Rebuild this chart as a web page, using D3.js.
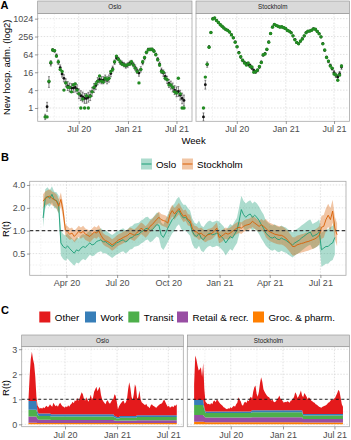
<!DOCTYPE html>
<html lang="en">
<head>
    <meta charset="UTF-8">
    <meta name="viewport" content="width=device-width, initial-scale=1.0">
    <title>Hospital admissions and R(t), Oslo and Stockholm</title>
    <script src="https://d3js.org/d3.v7.min.js"></script>
    <style>
        body { margin: 0; background: #fff; }
        svg { display: block; font-family: "Liberation Sans", Arial, sans-serif; }
        .tick text { font-family: "Liberation Sans", Arial, sans-serif; font-size: 9px; fill: #4d4d4d; }
        .tick line { stroke: #333; stroke-width: 0.5px; }
        .axis-title { font-size: 9.5px; fill: #000; }
        .strip rect { fill: #d9d9d9; stroke: #8c8c8c; stroke-width: 0.6px; }
        .strip text { font-size: 6.3px; fill: #1a1a1a; text-anchor: middle; }
        .tag { font-size: 11px; font-weight: bold; }
        .legend text { font-size: 9.8px; fill: #000; }
        .grid-major { stroke: #d4d4d4; stroke-width: 0.7px; stroke-dasharray: 1.5 1.5; }
        .grid-minor { stroke: #e8e8e8; stroke-width: 0.6px; stroke-dasharray: 1.5 1.5; }
        .border { fill: none; stroke: #a8a8a8; stroke-width: 0.8px; }
    </style>
</head>
<body>
<svg width="351" height="440"></svg>
<script>
// ---------------- data ----------------
const cities = ["Oslo", "Stockholm"];

// A: weekly new hospital admissions (observed = green, model = black with interval)
const weekStart = new Date(2020, 1, 27);
const osloObs = [0.5, 0.5, 8, 34, 90, 86, 56, 36, 20, 17, 4, 7, 5, 5, 3.5, 6, 6.5, 4, 3, 1,
    2, 1, 2.6, 1, 2.5, 3.5, 5, 6.5, 8, 12, 8, 7.5, 10, 9, 10, 17, 20, 36, 56, 44,
    36, 30, 28, 27, 29, 30, 36, 28, 22, 17, 7, 20, 36, 50, 76, 92, 94, 96, 82, 62,
    42, 28, 17, 16, 10, 9, 6, 6, 5, 3.5, 3.2, 10, 3, 1, 1];
const osloFit = [0.5, 1.1, 7.5, 32, 90, 84, 58, 35, 23, 14, 10, 7, 5.5, 4.9, 4.7, 4.7, 4.9, 4.3, 3.0, 2.6,
    2.35, 2.1, 2.1, 2.3, 2.6, 3.5, 4.7, 5.7, 8, 9.2, 8.6, 8.6, 9.8, 8.6, 9.8, 14.4, 21, 35, 48, 45,
    35, 32, 29, 26, 28, 32, 34, 29, 23, 18, 15, 20, 34, 48, 74, 94, 95, 94, 84, 64,
    44, 30, 18, 15, 11.7, 8.9, 6.7, 5.9, 4.9, 4, 3.5, 3.6, 2.7, 2.1, 1.8];
const osloErr = [0.3, 0.5, 0.6, 0.3, 0.15, 0.15, 0.2, 0.25, 0.3, 0.35, 0.4, 0.45, 0.5, 0.5, 0.5, 0.5, 0.5, 0.5, 0.55, 0.55,
    0.55, 0.55, 0.55, 0.55, 0.55, 0.5, 0.5, 0.45, 0.4, 0.4, 0.4, 0.4, 0.4, 0.4, 0.4, 0.35, 0.3, 0.25, 0.2, 0.2,
    0.25, 0.25, 0.25, 0.25, 0.25, 0.25, 0.25, 0.25, 0.3, 0.3, 0.35, 0.3, 0.25, 0.2, 0.15, 0.15, 0.15, 0.15, 0.15, 0.15,
    0.2, 0.25, 0.3, 0.35, 0.4, 0.4, 0.45, 0.45, 0.5, 0.5, 0.55, 0.55, 0.55, 0.6, 0.6];
const sthlmObs = [1, 11, 30, 112, 350, 1000, 1075, 880, 760, 640, 570, 490, 440, 410, 365, 290, 232, 165, 116, 72,
    53, 41, 33, 28, 33, 25, 24, 16, 17, 19, 25, 34, 62, 66, 95, 165, 325, 530, 650, 600,
    570, 530, 545, 505, 475, 410, 390, 340, 270, 200, 162, 145, 180, 212, 270, 340, 390, 390, 420, 465,
    450, 380, 315, 250, 145, 90, 50, 38, 26, 22, 14, 13, 8.6, 13, 26];
const sthlmFit = [0.5, 6.1, 29, 114, 345, 1024, 1075, 891, 750, 644, 564, 498, 437, 416, 362, 294, 229, 169, 114, 74,
    52, 40, 34, 31, 29, 27.5, 22, 18.4, 16.3, 18.4, 24, 35, 60, 68, 92, 169, 320, 537, 644, 609,
    564, 537, 537, 512, 471, 416, 383, 345, 267, 206, 159, 147, 176, 217, 267, 345, 383, 393, 416, 471,
    446, 383, 320, 247, 147, 88, 52, 37, 27.5, 21, 15.6, 12.6, 11.1, 14.3, 24];
const sthlmErr = [0.45, 0.5, 0.3, 0.15, 0.06, 0.06, 0.06, 0.06, 0.06, 0.06, 0.06, 0.06, 0.06, 0.06, 0.06, 0.06, 0.06, 0.06, 0.06, 0.06,
    0.15, 0.15, 0.15, 0.15, 0.15, 0.15, 0.15, 0.15, 0.15, 0.15, 0.15, 0.15, 0.1, 0.1, 0.1, 0.1, 0.05, 0.05, 0.05, 0.05,
    0.05, 0.05, 0.05, 0.05, 0.05, 0.05, 0.05, 0.05, 0.05, 0.05, 0.05, 0.05, 0.05, 0.05, 0.05, 0.05, 0.05, 0.05, 0.05, 0.05,
    0.05, 0.05, 0.05, 0.05, 0.1, 0.1, 0.1, 0.15, 0.15, 0.15, 0.25, 0.25, 0.25, 0.25, 0.25];
const admTicks = [1, 4, 16, 64, 256, 1024];
const admMinor = [0.5, 2, 8, 32, 128, 512];

// B: R(t) every 4th day, with interval half width in log2 units
const rStart = new Date(2020, 1, 19);
const osloR = [1.47, 2.66, 2.86, 2.66, 3.01, 2.55, 2.50, 2.21, 0.69, 0.62,
    0.59, 0.63, 0.58, 0.54, 0.505, 0.56, 0.54, 0.59, 0.62, 0.60,
    0.65, 0.69, 0.65, 0.665, 0.72, 0.74, 0.76, 0.71, 0.72, 0.68,
    0.65, 0.62, 0.65, 0.69, 0.71, 0.74, 0.76, 0.71, 0.74, 0.80,
    0.815, 0.87, 0.885, 0.90, 0.96, 1.00, 1.06, 1.08, 1.00, 1.03,
    1.11, 1.20, 1.18, 0.885, 0.815, 0.93, 1.08, 1.23, 1.40, 1.50,
    1.72, 1.84, 1.60, 1.47, 1.50, 1.36, 1.26, 0.98, 0.87, 0.84,
    0.93, 0.80, 0.76, 0.84, 0.90, 0.93, 0.885, 0.90, 0.93, 0.90,
    0.84, 0.78, 0.69, 0.76, 0.84, 0.80, 0.90, 1.00, 1.33, 1.90,
    1.63, 1.50, 1.60, 1.66, 1.50, 1.60, 1.50, 1.36, 1.20, 1.08,
    0.93, 0.87, 0.815, 0.80, 0.83, 0.78, 0.76, 0.80, 0.77, 0.75,
    0.71, 0.68, 0.65, 0.69, 0.72, 0.75, 0.80, 0.84, 0.885, 0.93,
    0.96, 0.84, 0.87, 0.90, 0.96, 0.56, 0.59, 0.62, 0.62, 0.665,
    0.69, 0.815];
const osloRW = [.40, .40, .38, .36, .35, .35, .36, .40, .55, .55,
    .55, .55, .55, .55, .55, .55, .55, .55, .55, .55,
    .55, .52, .50, .50, .50, .50, .50, .50, .50, .50,
    .50, .50, .50, .50, .50, .50, .50, .50, .50, .50,
    .50, .50, .50, .50, .50, .50, .50, .50, .50, .50,
    .50, .52, .55, .55, .55, .58, .60, .60, .60, .60,
    .60, .60, .60, .58, .55, .55, .55, .55, .55, .55,
    .55, .55, .55, .55, .55, .55, .55, .55, .55, .55,
    .55, .55, .55, .55, .55, .55, .55, .55, .60, .60,
    .60, .60, .60, .60, .60, .60, .60, .60, .60, .60,
    .55, .55, .55, .55, .55, .55, .55, .55, .55, .55,
    .55, .55, .55, .55, .55, .55, .55, .55, .55, .55,
    .55, .55, .55, .55, .55, .75, .75, .75, .75, .75,
    .75, .75];
const sthlmR = [2.45, 2.66, 2.77, 2.86, 2.66, 2.58, 2.45, 2.10, 2.58, 1.81,
    1.03, 0.96, 0.90, 0.93, 0.84, 0.90, 0.98, 0.93, 0.98, 0.90,
    0.87, 0.84, 0.90, 0.96, 0.93, 1.00, 0.87, 0.78, 0.74, 0.72,
    0.69, 0.65, 0.68, 0.72, 0.76, 0.78, 0.815, 0.84, 0.87, 0.93,
    0.90, 0.87, 0.93, 1.00, 1.08, 1.03, 0.96, 1.03, 1.14, 1.20,
    1.30, 1.40, 1.50, 1.40, 1.36, 1.33, 1.26, 1.63, 1.84, 1.66,
    1.81, 1.96, 1.72, 1.55, 1.60, 1.40, 1.36, 1.08, 0.98, 0.96,
    0.90, 0.93, 0.87, 0.84, 0.885, 0.90, 0.93, 1.00, 1.08, 0.815,
    0.84, 0.885, 0.93, 0.90, 0.93, 0.98, 1.03, 1.08, 1.11, 1.08,
    1.14, 1.18, 1.20, 1.23, 1.33, 1.26, 1.20, 1.14, 1.20, 1.14,
    1.08, 1.00, 0.96, 0.93, 0.90, 0.885, 0.87, 0.87, 0.84, 0.80,
    0.74, 0.68, 0.62, 0.62, 0.65, 0.665, 0.68, 0.69, 0.71, 0.72,
    0.74, 0.76, 0.78, 0.815, 0.87, 1.11, 1.14, 1.40, 1.60, 1.40,
    1.81, 1.08, 0.885];
const sthlmRW = [.30, .30, .30, .30, .30, .30, .30, .30, .30, .30,
    .25, .25, .25, .25, .25, .25, .25, .25, .25, .25,
    .25, .25, .25, .25, .25, .25, .25, .25, .25, .25,
    .25, .25, .25, .25, .25, .25, .25, .25, .25, .25,
    .25, .25, .25, .25, .25, .25, .25, .25, .25, .25,
    .25, .25, .25, .25, .25, .25, .25, .25, .25, .25,
    .25, .25, .25, .25, .25, .25, .25, .25, .25, .25,
    .25, .25, .25, .25, .25, .25, .25, .25, .25, .25,
    .25, .25, .25, .25, .25, .25, .25, .25, .25, .25,
    .25, .25, .25, .25, .25, .25, .25, .25, .25, .25,
    .40, .40, .40, .40, .40, .40, .40, .40, .40, .40,
    .40, .40, .40, .40, .40, .40, .40, .40, .40, .40,
    .40, .40, .40, .40, .40, .50, .50, .50, .50, .50,
    .50, .50, .50];
const rTicks = [0.5, 1, 2, 4];
const rTickLabels = ["0.5", "1.0", "2.0", "4.0"];

// C: contribution to R(t) by category, every 4th day
const cStart = new Date(2020, 1, 23);
const categories = ["Other", "Work", "Transit", "Retail & recr.", "Groc. & pharm."];
const catColors = ["#E41A1C", "#377EB8", "#4DAF4A", "#984EA3", "#FF7F00"];

const osloOther = [.07, .97, 1.67, 1.97, 1.67, 1.47, .97, .17, .23, .25,
    .19, .23, .19, .25, .21, .27, .31, .25, .29, .37,
    .34, .30, .46, .38, .32, .36, .30, .40, .46, .38,
    .32, .30, .26, .32, .28, .36, .30, .38, .42, .50,
    .44, .56, .52, .66, .54, .62, .76, .88, .80, .62,
    .54, .68, .58, .50, .62, .78, .60, .66, .90, 1.00,
    1.10, .92, 1.02, 1.10, .78, .60, .52, .46, .40, .52,
    .56, .46, .42, .50, .58, .62, .87, .81, .61, .31,
    .43, .47, .53, .59, .61, .49, .55, .67, 1.07, 1.35,
    1.12, .77, .63, .87, 1.27, 1.15, .66, .72, .99, .64,
    .52, .48, .44, .40, .46, .36, .34, .28, .40, .44,
    .38, .36, .32, .30, .36, .40, .44, .46, .48, .58,
    .62, .52, .42, .34, .38, .30, .34, .36, .32, .40,
    .38, .44];
const osloWork = [.35, .35, .35, .35, .35, .35, .35, .35, .14, .10,
    .10, .10, .10, .10, .10, .10, .10, .10, .10, .10,
    .09, .09, .09, .09, .09, .09, .09, .09, .09, .09,
    .09, .09, .09, .09, .09, .09, .09, .09, .09, .09,
    .09, .09, .09, .09, .09, .09, .09, .09, .09, .09,
    .09, .09, .09, .09, .09, .09, .09, .09, .09, .09,
    .09, .09, .09, .09, .09, .09, .09, .09, .09, .09,
    .09, .09, .09, .09, .09, .09, .07, .07, .06, .06,
    .06, .07, .07, .07, .07, .07, .07, .07, .07, .07,
    .07, .07, .07, .07, .07, .07, .07, .07, .07, .07,
    .07, .07, .07, .07, .07, .07, .07, .07, .07, .07,
    .07, .07, .07, .07, .07, .07, .07, .07, .07, .07,
    .07, .07, .07, .07, .07, .07, .07, .07, .07, .07,
    .07, .07];
const osloTransit = [.27, .27, .27, .27, .27, .27, .27, .27, .17, .15,
    .15, .15, .15, .15, .15, .15, .15, .15, .15, .15,
    .14, .14, .14, .14, .14, .14, .14, .14, .14, .14,
    .14, .14, .14, .14, .14, .14, .14, .14, .14, .14,
    .14, .14, .14, .14, .14, .14, .14, .14, .14, .14,
    .14, .14, .14, .14, .14, .14, .14, .14, .14, .14,
    .14, .14, .14, .14, .14, .14, .14, .14, .14, .14,
    .14, .14, .14, .14, .14, .14, .11, .11, .09, .09,
    .09, .11, .11, .11, .11, .11, .11, .11, .11, .11,
    .11, .11, .11, .11, .11, .11, .13, .13, .13, .13,
    .13, .13, .13, .13, .13, .13, .13, .13, .13, .13,
    .13, .13, .13, .13, .13, .13, .13, .13, .13, .13,
    .13, .13, .13, .13, .13, .13, .13, .13, .13, .13,
    .13, .13];
const osloRetail = [.25, .25, .25, .25, .25, .25, .25, .25, .16, .13,
    .13, .13, .13, .13, .13, .13, .13, .13, .13, .13,
    .12, .12, .12, .12, .12, .12, .12, .12, .12, .12,
    .12, .12, .12, .12, .12, .12, .12, .12, .12, .12,
    .12, .12, .12, .12, .12, .12, .12, .12, .12, .12,
    .12, .12, .12, .12, .12, .12, .12, .12, .12, .12,
    .12, .12, .12, .12, .12, .12, .12, .12, .12, .12,
    .12, .12, .12, .12, .12, .12, .10, .10, .09, .09,
    .09, .10, .10, .10, .10, .10, .10, .10, .10, .10,
    .10, .10, .10, .10, .10, .10, .11, .11, .11, .11,
    .11, .11, .11, .11, .11, .11, .11, .11, .11, .11,
    .11, .11, .11, .11, .11, .11, .11, .11, .11, .11,
    .11, .11, .11, .11, .11, .11, .11, .11, .11, .11,
    .11, .11];
const osloGroc = [.06, .06, .06, .06, .06, .06, .06, .06, .05, .05,
    .05, .05, .05, .05, .05, .05, .05, .05, .05, .05,
    .05, .05, .05, .05, .05, .05, .05, .05, .05, .05,
    .05, .05, .05, .05, .05, .05, .05, .05, .05, .05,
    .05, .05, .05, .05, .05, .05, .05, .05, .05, .05,
    .05, .05, .05, .05, .05, .05, .05, .05, .05, .05,
    .05, .05, .05, .05, .05, .05, .05, .05, .05, .05,
    .05, .05, .05, .05, .05, .05, .05, .05, .05, .05,
    .05, .05, .05, .05, .05, .05, .05, .05, .05, .05,
    .05, .05, .05, .05, .05, .05, .05, .05, .05, .05,
    .05, .05, .05, .05, .05, .05, .05, .05, .05, .05,
    .05, .05, .05, .05, .05, .05, .05, .05, .05, .05,
    .05, .05, .05, .05, .05, .05, .05, .05, .05, .05,
    .05, .05];

const sthlmOther = [.63, 1.78, 1.63, 1.38, 1.18, 1.23, 1.31, .93, 1.48, .73,
    .39, .34, .29, .31, .27, .34, .29, .41, .44, .37,
    .49, .44, .37, .31, .27, .23, .17, .15, .11, .09,
    .13, .11, .17, .13, .19, .23, .19, .29, .35, .57,
    .47, .41, .27, .23, .35, .39, .34, .45, .41, .54,
    .59, .46, .74, .92, .99, .66, .54, .74, 1.09, 1.32,
    1.14, .84, .74, .66, .59, .54, .52, .44, .39, .42,
    .34, .32, .36, .44, .49, .59, .46, .44, .36, .30,
    .34, .32, .36, .34, .30, .38, .40, .46, .54, .72,
    .64, .49, .56, .66, .79, .59, .67, .84, .77, .69,
    .59, .67, .61, .54, .51, .47, .45, .39, .37, .33,
    .29, .27, .25, .29, .31, .33, .35, .39, .45, .47,
    .53, .59, .55, .61, .64, .74, .84, .97, .89, .64,
    .39, .29];
const sthlmWork = [.20, .20, .20, .20, .20, .20, .20, .20, .20, .08,
    .06, .06, .06, .06, .06, .06, .06, .06, .06, .06,
    .06, .06, .06, .06, .06, .06, .06, .06, .06, .06,
    .06, .06, .06, .06, .06, .06, .06, .06, .06, .06,
    .06, .06, .06, .06, .06, .06, .06, .06, .06, .06,
    .06, .08, .08, .08, .08, .08, .08, .08, .08, .08,
    .08, .08, .08, .08, .08, .08, .08, .08, .08, .08,
    .08, .08, .08, .08, .08, .08, .08, .08, .08, .08,
    .08, .08, .08, .08, .08, .08, .08, .08, .08, .08,
    .08, .08, .08, .08, .08, .08, .06, .06, .06, .06,
    .06, .06, .06, .06, .06, .06, .06, .06, .06, .06,
    .06, .06, .06, .06, .06, .06, .06, .06, .06, .06,
    .06, .06, .06, .06, .06, .06, .06, .06, .06, .06,
    .06, .06];
const sthlmTransit = [.40, .40, .40, .40, .40, .40, .40, .40, .40, .28,
    .18, .18, .18, .18, .18, .18, .18, .18, .18, .18,
    .18, .18, .18, .18, .18, .18, .18, .18, .18, .18,
    .18, .18, .18, .18, .18, .18, .18, .18, .18, .18,
    .18, .18, .18, .18, .18, .18, .18, .18, .18, .18,
    .18, .20, .20, .20, .20, .20, .20, .20, .20, .20,
    .20, .20, .20, .20, .20, .20, .20, .20, .20, .20,
    .20, .20, .20, .20, .20, .20, .20, .20, .20, .20,
    .20, .20, .20, .20, .20, .20, .20, .20, .20, .20,
    .20, .20, .20, .20, .20, .20, .14, .14, .14, .14,
    .14, .14, .14, .14, .14, .14, .14, .14, .14, .14,
    .14, .14, .14, .14, .14, .14, .14, .14, .14, .14,
    .14, .14, .14, .14, .14, .14, .14, .14, .14, .14,
    .14, .14];
const sthlmRetail = [.27, .27, .27, .27, .27, .27, .27, .27, .27, .22,
    .19, .19, .19, .19, .19, .19, .19, .19, .19, .19,
    .19, .19, .19, .19, .19, .19, .19, .19, .19, .19,
    .19, .19, .19, .19, .19, .19, .19, .19, .19, .19,
    .19, .19, .19, .19, .19, .19, .19, .19, .19, .19,
    .19, .20, .20, .20, .20, .20, .20, .20, .20, .20,
    .20, .20, .20, .20, .20, .20, .20, .20, .20, .20,
    .20, .20, .20, .20, .20, .20, .20, .20, .20, .20,
    .20, .20, .20, .20, .20, .20, .20, .20, .20, .20,
    .20, .20, .20, .20, .20, .20, .14, .14, .14, .14,
    .14, .14, .14, .14, .14, .14, .14, .14, .14, .14,
    .14, .14, .14, .14, .14, .14, .14, .14, .14, .14,
    .14, .14, .14, .14, .14, .14, .14, .14, .14, .14,
    .14, .14];
const sthlmGroc = [.10, .10, .10, .10, .10, .10, .10, .10, .10, .09,
    .08, .08, .08, .08, .08, .08, .08, .08, .08, .08,
    .08, .08, .08, .08, .08, .08, .08, .08, .08, .08,
    .08, .08, .08, .08, .08, .08, .08, .08, .08, .08,
    .08, .08, .08, .08, .08, .08, .08, .08, .08, .08,
    .08, .08, .08, .08, .08, .08, .08, .08, .08, .08,
    .08, .08, .08, .08, .08, .08, .08, .08, .08, .08,
    .08, .08, .08, .08, .08, .08, .08, .08, .08, .08,
    .08, .08, .08, .08, .08, .08, .08, .08, .08, .08,
    .08, .08, .08, .08, .08, .08, .07, .07, .07, .07,
    .07, .07, .07, .07, .07, .07, .07, .07, .07, .07,
    .07, .07, .07, .07, .07, .07, .07, .07, .07, .07,
    .07, .07, .07, .07, .07, .07, .07, .07, .07, .07,
    .07, .07];

// ---------------- drawing ----------------
const svg = d3.select("svg");
const fmtMonth = d3.timeFormat("%b %y");
const halfYear = [new Date(2020, 6, 1), new Date(2021, 0, 1), new Date(2021, 6, 1)];
const halfYearMinor = [new Date(2020, 3, 1), new Date(2020, 9, 1), new Date(2021, 3, 1)];

function frame(x0, y0, x1, y1, xs, ys, xMaj, xMin, yMaj, yMin) {
    const g = svg.append("g");
    g.append("rect").attr("x", x0).attr("y", y0).attr("width", x1 - x0).attr("height", y1 - y0).attr("fill", "#fff");
    g.selectAll(null).data(yMin).join("line").attr("class", "grid-minor")
        .attr("x1", x0).attr("x2", x1).attr("y1", d => ys(d)).attr("y2", d => ys(d));
    g.selectAll(null).data(xMin).join("line").attr("class", "grid-minor")
        .attr("x1", d => xs(d)).attr("x2", d => xs(d)).attr("y1", y0).attr("y2", y1);
    g.selectAll(null).data(yMaj).join("line").attr("class", "grid-major")
        .attr("x1", x0).attr("x2", x1).attr("y1", d => ys(d)).attr("y2", d => ys(d));
    g.selectAll(null).data(xMaj).join("line").attr("class", "grid-major")
        .attr("x1", d => xs(d)).attr("x2", d => xs(d)).attr("y1", y0).attr("y2", y1);
}

function border(x0, y0, x1, y1) {
    svg.append("rect").attr("class", "border")
        .attr("x", x0).attr("y", y0).attr("width", x1 - x0).attr("height", y1 - y0);
}

function strip(x0, y0, x1, y1, label) {
    const g = svg.append("g").attr("class", "strip");
    g.append("rect").attr("x", x0).attr("y", y0).attr("width", x1 - x0).attr("height", y1 - y0);
    g.append("text").attr("x", (x0 + x1) / 2).attr("y", (y0 + y1) / 2 + 2.2).text(label);
}

function xAxis(xs, y, ticks) {
    svg.append("g").attr("transform", `translate(0,${y})`)
        .call(d3.axisBottom(xs).tickValues(ticks).tickFormat(fmtMonth).tickSize(2.75).tickPadding(2))
        .call(g => g.select(".domain").remove());
}

function yAxis(ys, x, ticks, labels) {
    svg.append("g").attr("transform", `translate(${x},0)`)
        .call(d3.axisLeft(ys).tickValues(ticks).tickFormat((d, i) => labels[i]).tickSize(2.75).tickPadding(1.7))
        .call(g => g.select(".domain").remove());
}

function yTitle(text, x, y) {
    svg.append("text").attr("class", "axis-title")
        .attr("transform", `translate(${x},${y}) rotate(-90)`)
        .attr("text-anchor", "middle").text(text);
}

function tag(text, x, y) {
    svg.append("text").attr("class", "tag").attr("x", x).attr("y", y).text(text);
}

// ---- panel A ----
tag("A", 0.5, 9);
const yA = d3.scaleLog().base(2).domain([Math.pow(2, -1.49), Math.pow(2, 10.6)]).range([121.3, 13.3]);
const weeks = osloFit.map((_, i) => d3.timeDay.offset(weekStart, 7 * i));
const aPanels = [
    { name: cities[0], x0: 37.7, x1: 192, obs: osloObs, fit: osloFit, err: osloErr },
    { name: cities[1], x0: 196, x1: 349.5, obs: sthlmObs, fit: sthlmFit, err: sthlmErr }
];
aPanels.forEach(p => {
    const x = d3.scaleTime().domain([new Date(2020, 0, 30), new Date(2021, 7, 28)]).range([p.x0, p.x1]);
    frame(p.x0, 13.3, p.x1, 121.3, x, yA, halfYear, halfYearMinor, admTicks, admMinor);
    const g = svg.append("g");
    g.selectAll(null).data(p.fit).join("line")
        .attr("x1", (d, i) => x(weeks[i])).attr("x2", (d, i) => x(weeks[i]))
        .attr("y1", (d, i) => yA(d * Math.pow(2, -p.err[i]))).attr("y2", (d, i) => yA(d * Math.pow(2, p.err[i])))
        .attr("stroke", "#2b2b2b").attr("stroke-width", 0.6);
    ["lo", "hi"].forEach(side => {
        g.selectAll(null).data(p.fit).join("line")
            .attr("x1", (d, i) => x(weeks[i]) - 1).attr("x2", (d, i) => x(weeks[i]) + 1)
            .attr("y1", (d, i) => yA(d * Math.pow(2, side === "lo" ? -p.err[i] : p.err[i])))
            .attr("y2", (d, i) => yA(d * Math.pow(2, side === "lo" ? -p.err[i] : p.err[i])))
            .attr("stroke", "#2b2b2b").attr("stroke-width", 0.5);
    });
    g.selectAll(null).data(p.fit).join("circle")
        .attr("cx", (d, i) => x(weeks[i])).attr("cy", d => yA(d)).attr("r", 1.4).attr("fill", "#111");
    g.selectAll(null).data(p.obs).join("circle")
        .attr("cx", (d, i) => x(weeks[i])).attr("cy", d => yA(d)).attr("r", 1.7).attr("fill", "#228B22");
    border(p.x0, 13.3, p.x1, 121.3);
    strip(p.x0, 1, p.x1, 13.3, p.name);
    xAxis(x, 121.3, halfYear);
});
yAxis(yA, 37.7, admTicks, admTicks.map(String));
yTitle("New hosp. adm. (log2)", 9.5, 67.3);
svg.append("text").attr("class", "axis-title").attr("x", 193.6).attr("y", 143.5)
    .attr("text-anchor", "middle").text("Week");

// ---- panel B ----
tag("B", 1, 161);
const xB = d3.scaleTime().domain([new Date(2020, 0, 26), new Date(2021, 7, 16)]).range([29.7, 346]);
const yB = d3.scaleLog().base(2).domain([Math.pow(2, -1.95), Math.pow(2, 2.16)]).range([275.3, 181.3]);
const bMajor = [new Date(2020, 3, 1), new Date(2020, 6, 1), new Date(2020, 9, 1),
    new Date(2021, 0, 1), new Date(2021, 3, 1), new Date(2021, 6, 1)];
const bMinor = [new Date(2020, 1, 15), new Date(2020, 4, 16), new Date(2020, 7, 16), new Date(2020, 10, 16),
    new Date(2021, 1, 15), new Date(2021, 4, 16)];
frame(29.7, 181.3, 346, 275.3, xB, yB, bMajor, bMinor, rTicks,
    [Math.SQRT1_2 / 2, Math.SQRT1_2, Math.SQRT2, 2 * Math.SQRT2]);

const bSeries = [
    { r: osloR, w: osloRW, color: "#1B9E77" },
    { r: sthlmR, w: sthlmRW, color: "#D95F02" }
];
bSeries.forEach(s => {
    const rows = s.r.map((v, i) => ({ date: d3.timeDay.offset(rStart, 4 * i), r: v, w: s.w[i] }));
    s.rows = rows;
    svg.append("path").datum(rows)
        .attr("fill", s.color).attr("fill-opacity", 0.36)
        .attr("d", d3.area().x(d => xB(d.date))
            .y0(d => yB(d.r * Math.pow(2, -d.w))).y1(d => yB(d.r * Math.pow(2, d.w))));
});
bSeries.forEach(s => {
    svg.append("path").datum(s.rows)
        .attr("fill", "none").attr("stroke", s.color).attr("stroke-width", 0.9)
        .attr("d", d3.line().x(d => xB(d.date)).y(d => yB(d.r)));
});
svg.append("line").attr("x1", 29.7).attr("x2", 346).attr("y1", yB(1)).attr("y2", yB(1))
    .attr("stroke", "#3a3a3a").attr("stroke-width", 1.2).attr("stroke-dasharray", "3.5 2.5");
border(29.7, 181.3, 346, 275.3);
xAxis(xB, 275.3, bMajor);
yAxis(yB, 29.7, rTicks, rTickLabels);
yTitle("R(t)", 8.5, 229);

const legB = svg.append("g").attr("class", "legend");
[141, 182].forEach((kx, i) => {
    legB.append("rect").attr("x", kx).attr("y", 158.5).attr("width", 11).attr("height", 11)
        .attr("fill", bSeries[i].color).attr("fill-opacity", 0.36);
    legB.append("line").attr("x1", kx + 0.5).attr("x2", kx + 10.5).attr("y1", 164).attr("y2", 164)
        .attr("stroke", bSeries[i].color).attr("stroke-width", 1);
    legB.append("text").attr("x", kx + 15).attr("y", 167.6).text(cities[i]);
});

// ---- panel C ----
tag("C", 1, 314);
const yC = d3.scaleLinear().domain([-0.095, 3.1]).range([426.7, 346.7]);
const cKeys = ["groc", "retail", "transit", "work", "other"];
const cColorOf = { other: catColors[0], work: catColors[1], transit: catColors[2], retail: catColors[3], groc: catColors[4] };
const cPanels = [
    { name: cities[0], x0: 21.7, x1: 183.3, other: osloOther, work: osloWork, transit: osloTransit, retail: osloRetail, groc: osloGroc },
    { name: cities[1], x0: 187.3, x1: 349.5, other: sthlmOther, work: sthlmWork, transit: sthlmTransit, retail: sthlmRetail, groc: sthlmGroc }
];
cPanels.forEach(p => {
    const x = d3.scaleTime().domain([new Date(2020, 0, 30), new Date(2021, 7, 23)]).range([p.x0, p.x1]);
    frame(p.x0, 346.7, p.x1, 426.7, x, yC, halfYear, halfYearMinor, [0, 1, 2, 3], [0.5, 1.5, 2.5]);
    const rows = p.other.map((_, i) => {
        const row = { date: d3.timeDay.offset(cStart, 4 * i) };
        cKeys.forEach(k => row[k] = p[k][i]);
        return row;
    });
    const stacked = d3.stack().keys(cKeys)(rows);
    svg.append("g").selectAll("path").data(stacked).join("path")
        .attr("fill", d => cColorOf[d.key])
        .attr("d", d3.area().x(d => x(d.data.date)).y0(d => yC(d[0])).y1(d => yC(d[1])));
    svg.append("line").attr("x1", p.x0).attr("x2", p.x1).attr("y1", yC(1)).attr("y2", yC(1))
        .attr("stroke", "#111").attr("stroke-width", 0.9).attr("stroke-dasharray", "3 2.5");
    border(p.x0, 346.7, p.x1, 426.7);
    strip(p.x0, 335, p.x1, 346.7, p.name);
    xAxis(x, 426.7, halfYear);
});
yAxis(yC, 21.7, [0, 1, 2, 3], ["0", "1", "2", "3"]);
yTitle("R(t)", 8.5, 388);

const legC = svg.append("g").attr("class", "legend");
const cKeyX = [39.3, 85, 128.3, 177, 253];
categories.forEach((c, i) => {
    legC.append("rect").attr("x", cKeyX[i]).attr("y", 311.5).attr("width", 11).attr("height", 11)
        .attr("fill", catColors[i]);
    legC.append("text").attr("x", cKeyX[i] + 15.5).attr("y", 320.5).text(c);
});
</script>
</body>
</html>
